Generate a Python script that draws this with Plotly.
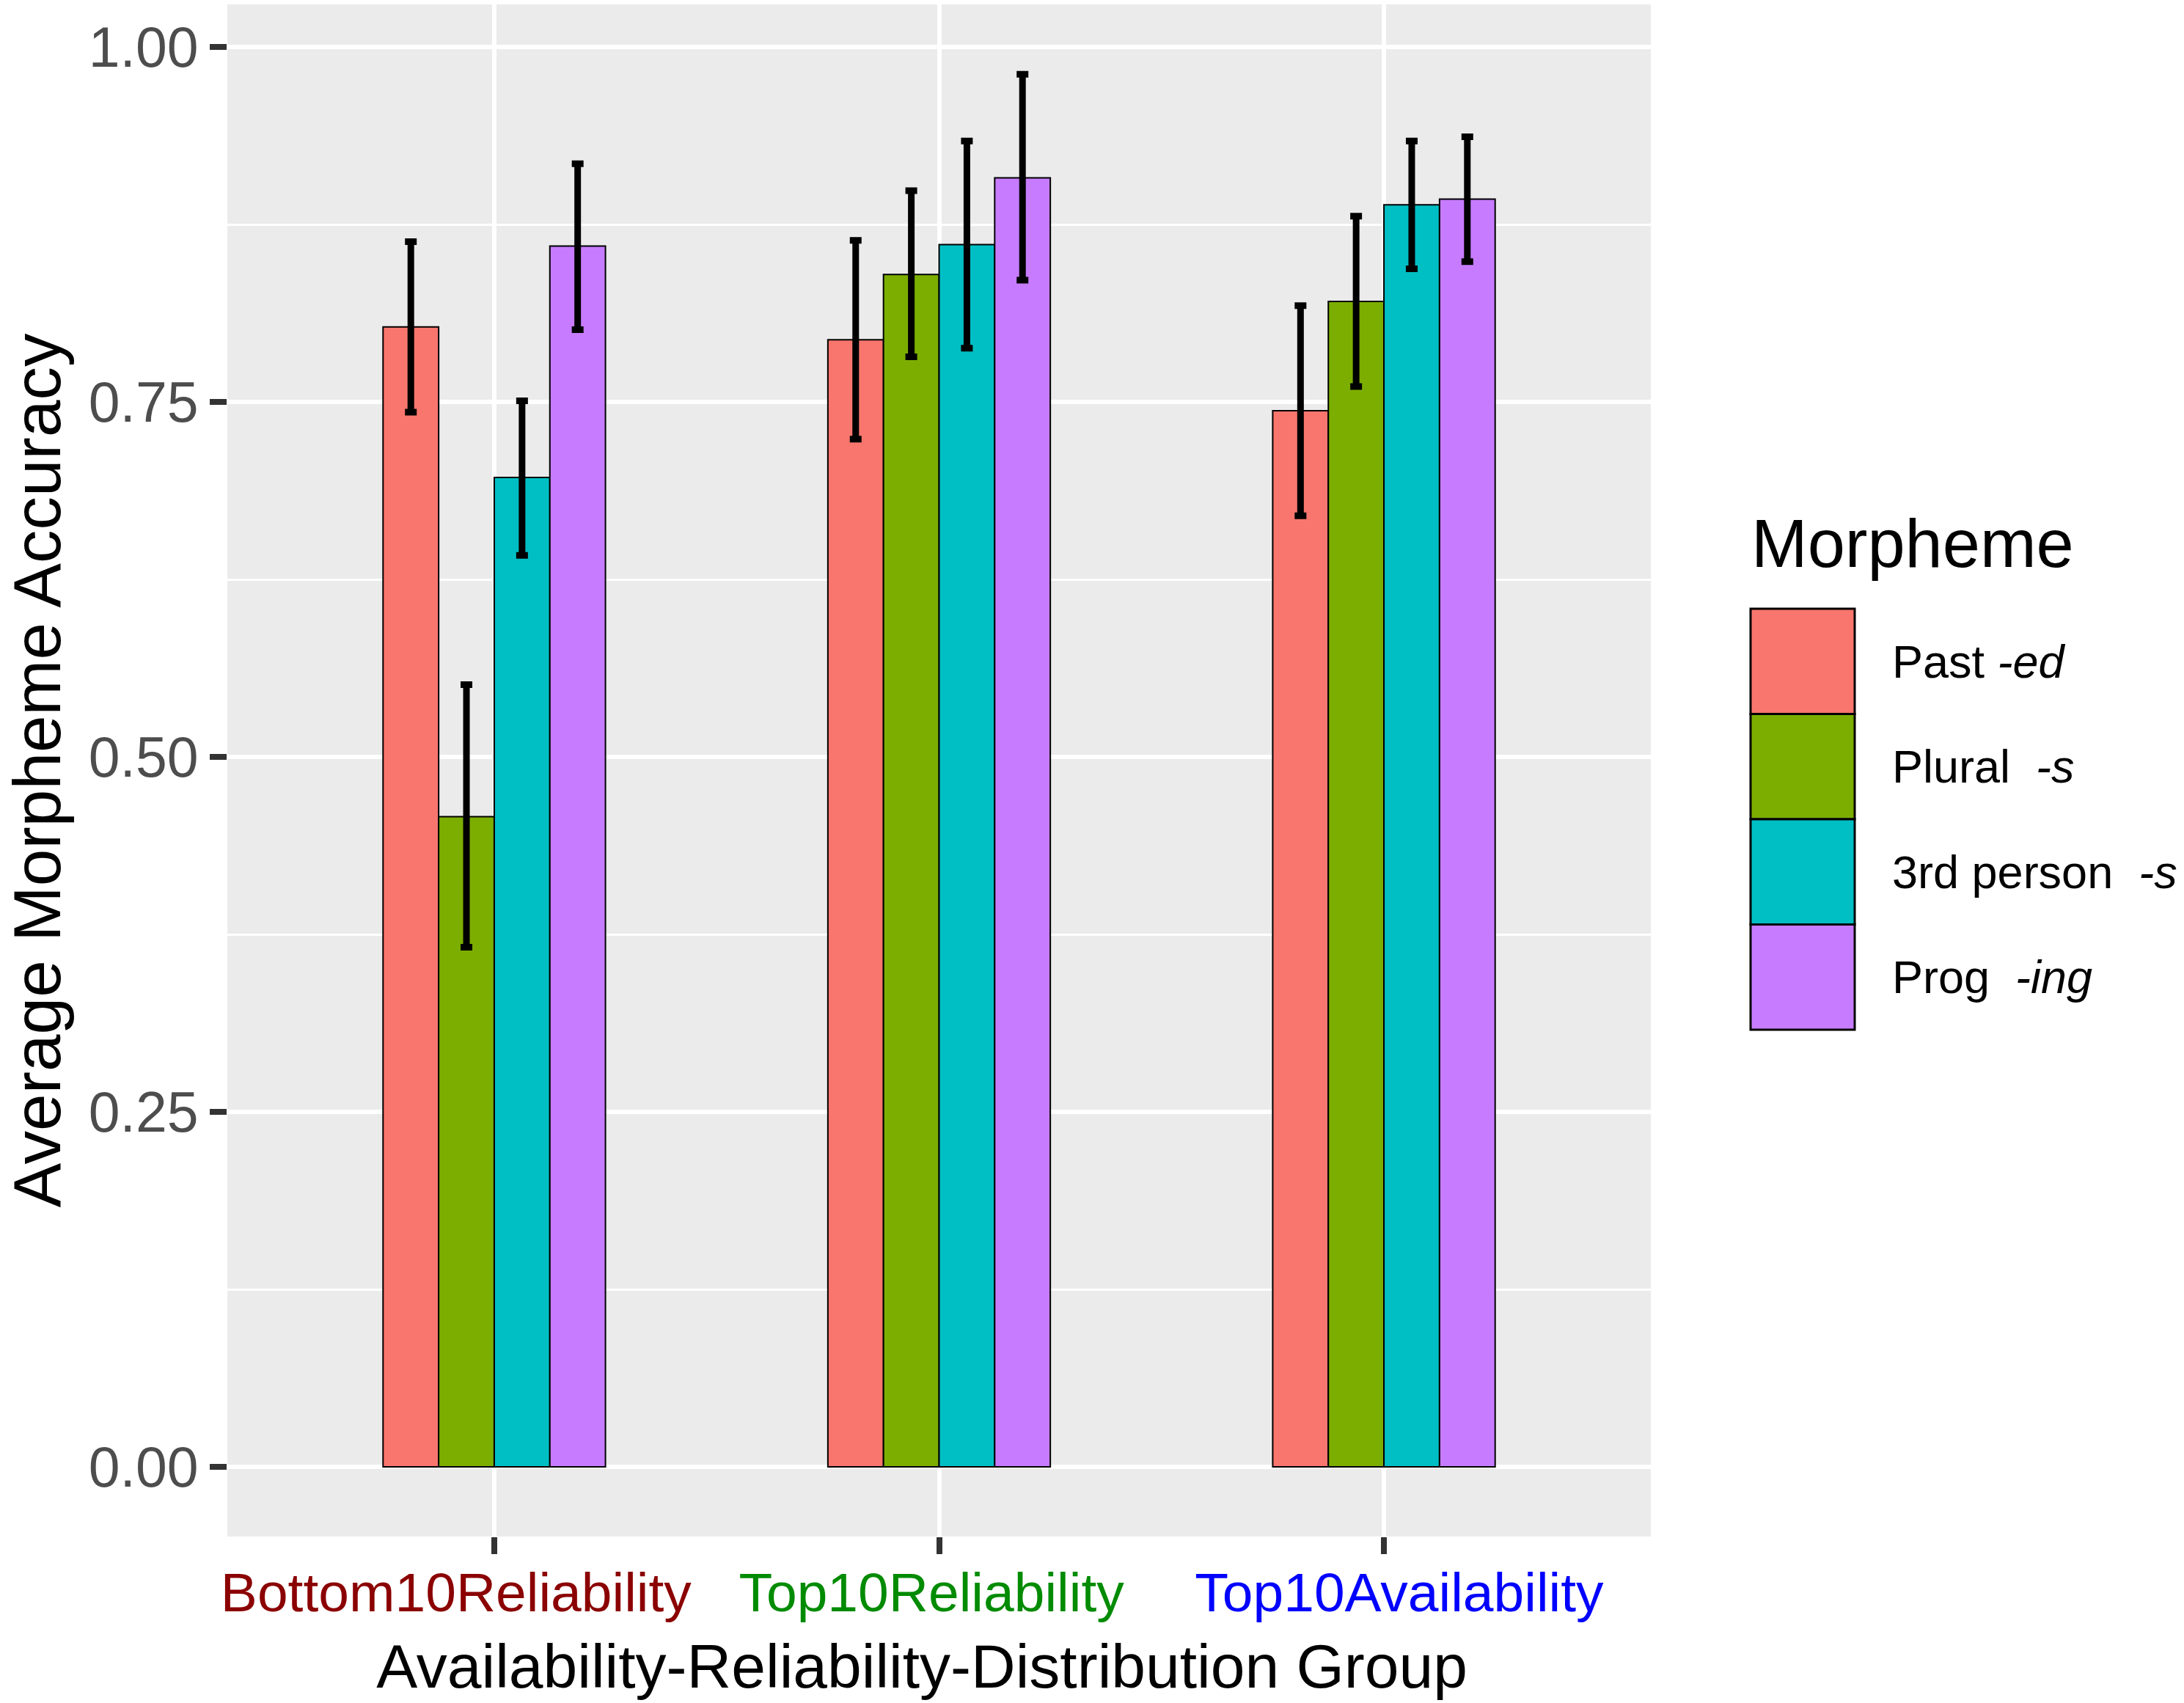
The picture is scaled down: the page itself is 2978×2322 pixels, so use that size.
import plotly.graph_objects as go

groups = ["Bottom10Reliability", "Top10Reliability", "Top10Availability"]
group_colors = ["#8B0000", "#008B00", "#0000FF"]
morphemes = ["Past <i>-ed</i>", "Plural  <i>-s</i>", "3rd person  <i>-s</i>", "Prog  <i>-ing</i>"]
fill_colors = ["#F8766D", "#7CAE00", "#00BFC4", "#C77CFF"]

past_mean = [0.803, 0.794, 0.744]
past_upper = [0.863, 0.864, 0.818]
past_lower = [0.743, 0.724, 0.670]

plural_mean = [0.458, 0.840, 0.821]
plural_upper = [0.551, 0.899, 0.881]
plural_lower = [0.366, 0.782, 0.761]

third_mean = [0.697, 0.861, 0.889]
third_upper = [0.751, 0.934, 0.934]
third_lower = [0.642, 0.788, 0.844]

prog_mean = [0.860, 0.908, 0.893]
prog_upper = [0.918, 0.981, 0.937]
prog_lower = [0.801, 0.836, 0.849]

y_ticks = [0.0, 0.25, 0.5, 0.75, 1.0]
y_ticklabels = ["0.00", "0.25", "0.50", "0.75", "1.00"]

means = [past_mean, plural_mean, third_mean, prog_mean]
uppers = [past_upper, plural_upper, third_upper, prog_upper]
lowers = [past_lower, plural_lower, third_lower, prog_lower]

W, H = 2978, 2322
ML, MR, MT, MB = 310, 727, 6, 227
PW, PH = W - ML - MR, H - MT - MB

FONT = "Liberation Sans, Arial, Helvetica, sans-serif"
NB = "&nbsp;"

fig = go.Figure()
for name, col, m, u, l in zip(morphemes, fill_colors, means, uppers, lowers):
    fig.add_trace(go.Bar(
        x=groups, y=m, name=name,
        marker=dict(color=col, line=dict(color="black", width=2)),
        error_y=dict(type="data", symmetric=False,
                     array=[a - b for a, b in zip(u, m)],
                     arrayminus=[b - c for b, c in zip(m, l)],
                     color="black", thickness=9, width=8),
        showlegend=False,
    ))

# manual ggplot-style legend
def px_x(px):
    return (px - ML) / PW

def px_y(py):
    return (H - MB - py) / PH

key_left, key_right = 2387, 2529
key_top, key_h = 830, 143.5
shapes = []
annotations = []
for i, (name, col) in enumerate(zip(morphemes, fill_colors)):
    y0 = key_top + i * key_h
    y1 = y0 + key_h
    shapes.append(dict(type="rect", xref="paper", yref="paper",
                       x0=px_x(key_left), x1=px_x(key_right),
                       y0=px_y(y1), y1=px_y(y0),
                       fillcolor=col, line=dict(color="black", width=3)))
    annotations.append(dict(xref="paper", yref="paper", x=px_x(2578), y=px_y((y0 + y1) / 2),
                            text=name, showarrow=False, xanchor="left", yanchor="middle",
                            font=dict(family=FONT, size=63, color="black")))
annotations.append(dict(xref="paper", yref="paper", x=px_x(2386), y=px_y(741),
                        text="Morpheme", showarrow=False, xanchor="left", yanchor="middle",
                        font=dict(family=FONT, size=92, color="black")))

# label padding mimics the off-centre placement of the original labels
pads = [("", NB * 5), ("", NB), (NB * 2, "")]
ticktext = [f'<span style="color:{c}">{p[0]}{g}{p[1]}</span>'
            for g, c, p in zip(groups, group_colors, pads)]

fig.update_layout(
    width=W, height=H,
    margin=dict(l=ML, r=MR, t=MT, b=MB, pad=0, autoexpand=False),
    paper_bgcolor="white", plot_bgcolor="#EBEBEB",
    barmode="group", bargap=0.5, bargroupgap=0,
    font=dict(family=FONT, color="black"),
    shapes=shapes, annotations=annotations,
    xaxis=dict(
        type="category", range=[-0.6, 2.6], automargin=False,
        tickvals=groups, ticktext=ticktext, tickangle=0,
        tickfont=dict(family=FONT, size=75),
        ticks="outside", ticklen=23, tickwidth=8, tickcolor="#333333",
        ticklabelstandoff=-12,
        showgrid=True, gridcolor="white", gridwidth=6,
        showline=False, zeroline=False,
        title=dict(text="Availability-Reliability-Distribution Group" + NB * 2,
                   font=dict(family=FONT, size=84, color="black"), standoff=30),
    ),
    yaxis=dict(
        range=[-0.0491, 1.0302], automargin=False,
        tickvals=y_ticks, ticktext=y_ticklabels,
        tickfont=dict(family=FONT, size=77, color="#4D4D4D"),
        ticks="outside", ticklen=23, tickwidth=8, tickcolor="#333333",
        showgrid=True, gridcolor="white", gridwidth=6,
        minor=dict(tickvals=[0.125, 0.375, 0.625, 0.875], showgrid=True,
                   gridcolor="white", gridwidth=3, ticks=""),
        showline=False, zeroline=False,
        title=dict(text="Average Morpheme Accuracy",
                   font=dict(family=FONT, size=91, color="black"), standoff=30),
    ),
)

fig.write_html("out.html", config={"displayModeBar": False},
               post_script="document.body.style.margin='0px';")
